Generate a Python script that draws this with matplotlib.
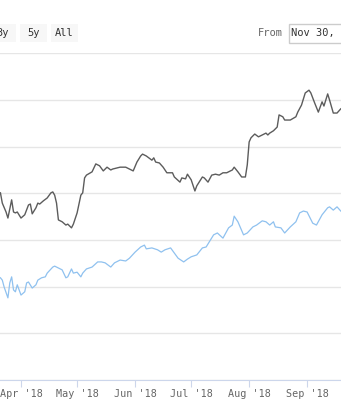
import datetime as dt
import matplotlib
matplotlib.use("Agg")
import matplotlib.pyplot as plt
import matplotlib.dates as mdates
from matplotlib.patches import Rectangle

# black series (readings, arbitrary units, gridline step 10)
black_dates = [
    "2018-03-21", "2018-03-22", "2018-03-24", "2018-03-25", "2018-03-27", "2018-03-28",
    "2018-03-29", "2018-03-30", "2018-04-01", "2018-04-03", "2018-04-05", "2018-04-06",
    "2018-04-07", "2018-04-09", "2018-04-10", "2018-04-11", "2018-04-13", "2018-04-15",
    "2018-04-17", "2018-04-18", "2018-04-19", "2018-04-20", "2018-04-21", "2018-04-23",
    "2018-04-25", "2018-04-26", "2018-04-28", "2018-04-29", "2018-05-01", "2018-05-03",
    "2018-05-04", "2018-05-05", "2018-05-06", "2018-05-09", "2018-05-11", "2018-05-13",
    "2018-05-15", "2018-05-17", "2018-05-19", "2018-05-20", "2018-05-22", "2018-05-24",
    "2018-05-27", "2018-05-28", "2018-05-31", "2018-06-02", "2018-06-04", "2018-06-05",
    "2018-06-07", "2018-06-10", "2018-06-11", "2018-06-12", "2018-06-14", "2018-06-16",
    "2018-06-18", "2018-06-21", "2018-06-22", "2018-06-25", "2018-06-26", "2018-06-28",
    "2018-06-29", "2018-07-01", "2018-07-03", "2018-07-04", "2018-07-07", "2018-07-08",
    "2018-07-10", "2018-07-12", "2018-07-14", "2018-07-16", "2018-07-18", "2018-07-20",
    "2018-07-23", "2018-07-24", "2018-07-26", "2018-07-28", "2018-07-30", "2018-07-31",
    "2018-08-01", "2018-08-02", "2018-08-04", "2018-08-06", "2018-08-08", "2018-08-10",
    "2018-08-11", "2018-08-12", "2018-08-14", "2018-08-16", "2018-08-17", "2018-08-19",
    "2018-08-20", "2018-08-23", "2018-08-26", "2018-08-27", "2018-08-29", "2018-08-31",
    "2018-09-02", "2018-09-03", "2018-09-05", "2018-09-07", "2018-09-09", "2018-09-10",
    "2018-09-12", "2018-09-13", "2018-09-15", "2018-09-17", "2018-09-19",
]
black_values = [
    40.1, 37.9, 36.0, 34.7, 38.6, 36.0,
    35.8, 36.0, 34.7, 35.4, 37.5, 37.7,
    35.6, 36.9, 37.9, 37.7, 38.4, 39.0,
    40.1, 40.3, 39.6, 37.9, 34.3, 33.9,
    33.2, 33.4, 32.6, 33.4, 35.8, 39.6,
    40.1, 43.3, 43.9, 44.6, 46.3, 45.9,
    44.8, 45.6, 45.0, 45.2, 45.4, 45.6,
    45.6, 45.4, 44.8, 46.7, 48.0, 48.4,
    48.0, 47.1, 47.6, 46.7, 46.5, 45.6,
    44.4, 44.4, 43.5, 42.4, 43.3, 43.1,
    44.1, 42.9, 40.5, 41.6, 43.5, 43.3,
    42.4, 43.9, 44.1, 43.9, 44.4, 44.4,
    45.0, 45.6, 44.6, 43.5, 43.5, 46.1,
    51.0, 51.9, 52.7, 52.1, 52.5, 52.9,
    52.5, 52.9, 53.4, 54.2, 56.8, 56.4,
    55.7, 55.7, 56.4, 57.4, 58.9, 61.5,
    62.1, 61.5, 59.4, 57.4, 59.6, 58.7,
    61.3, 60.0, 57.2, 57.2, 58.1,
]

# blue series
blue_dates = [
    "2018-03-21", "2018-03-22", "2018-03-23", "2018-03-25", "2018-03-26", "2018-03-27",
    "2018-03-28", "2018-03-29", "2018-03-30", "2018-04-01", "2018-04-03", "2018-04-04",
    "2018-04-05", "2018-04-07", "2018-04-09", "2018-04-10", "2018-04-12", "2018-04-14",
    "2018-04-15", "2018-04-18", "2018-04-19", "2018-04-21", "2018-04-23", "2018-04-25",
    "2018-04-26", "2018-04-28", "2018-04-29", "2018-05-01", "2018-05-03", "2018-05-04",
    "2018-05-06", "2018-05-09", "2018-05-12", "2018-05-14", "2018-05-16", "2018-05-19",
    "2018-05-21", "2018-05-24", "2018-05-27", "2018-05-29", "2018-06-01", "2018-06-04",
    "2018-06-06", "2018-06-07", "2018-06-10", "2018-06-13", "2018-06-15", "2018-06-17",
    "2018-06-20", "2018-06-22", "2018-06-24", "2018-06-27", "2018-06-29", "2018-07-01",
    "2018-07-04", "2018-07-07", "2018-07-09", "2018-07-13", "2018-07-15", "2018-07-18",
    "2018-07-21", "2018-07-23", "2018-07-24", "2018-07-26", "2018-07-29", "2018-07-31",
    "2018-08-03", "2018-08-05", "2018-08-08", "2018-08-10", "2018-08-12", "2018-08-14",
    "2018-08-15", "2018-08-18", "2018-08-20", "2018-08-23", "2018-08-26", "2018-08-28",
    "2018-08-30", "2018-09-01", "2018-09-04", "2018-09-06", "2018-09-09", "2018-09-12",
    "2018-09-13", "2018-09-15", "2018-09-17", "2018-09-19",
]
blue_values = [
    21.9, 21.4, 19.9, 17.6, 20.8, 22.1,
    19.3, 18.9, 20.4, 18.2, 18.9, 20.8,
    21.0, 19.7, 20.4, 21.4, 21.9, 22.1,
    22.9, 24.2, 24.4, 24.0, 23.6, 21.9,
    22.1, 23.8, 22.9, 23.1, 22.1, 22.9,
    23.8, 24.2, 25.3, 25.3, 25.1, 24.2,
    25.1, 25.7, 25.5, 26.1, 27.4, 28.5,
    28.9, 28.1, 28.3, 27.9, 27.4, 27.9,
    28.3, 27.2, 26.1, 25.3, 25.9, 26.4,
    26.8, 28.3, 28.5, 31.1, 31.5, 30.4,
    32.6, 33.2, 35.1, 33.9, 31.1, 31.5,
    32.8, 33.2, 34.1, 33.9, 33.2, 33.9,
    32.8, 32.6, 31.5, 32.8, 33.9, 35.8,
    36.2, 36.0, 33.6, 33.2, 35.4, 36.9,
    37.1, 36.4, 37.1, 36.2,
]

buttons = ["3y", "5y", "All"]
from_label = "From"
from_value = "Nov 30, 2017"

W, H = 341, 400
MONO = "DejaVu Sans Mono"


def px_rect(x, y, w, h, **kw):
    # rectangle given in pixel coords (top-left origin)
    return Rectangle((x / W, 1 - (y + h) / H), w / W, h / H,
                     transform=fig.transFigure, **kw)


fig = plt.figure(figsize=(W / 100, H / 100), dpi=100)
ax = fig.add_axes([0, 20 / H, 1, (380 - 53.3) / H])

bd = [dt.datetime.strptime(d, "%Y-%m-%d") for d in black_dates]
ld = [dt.datetime.strptime(d, "%Y-%m-%d") for d in blue_dates]
ax.plot(bd, black_values, color="#5c5c5c", lw=1.0, solid_joinstyle="round")
ax.plot(ld, blue_values, color="#8fc1ef", lw=0.9, solid_joinstyle="round")

apr1 = mdates.date2num(dt.datetime(2018, 4, 1))
ax.set_xlim(apr1 - 21 / 1.87, apr1 + 320 / 1.87)
ax.set_ylim(0, 70)
ax.set_yticks(range(0, 71, 10))
ax.yaxis.grid(True, color="#e6e6e6", lw=1)
ax.tick_params(axis="y", left=False, labelleft=False)
ax.set_axisbelow(True)

ax.xaxis.set_major_locator(mdates.MonthLocator())
ax.xaxis.set_major_formatter(mdates.DateFormatter("%b '%y"))
ax.tick_params(axis="x", length=5, color="#ccd6eb", labelcolor="#666666",
               labelsize=7.3, pad=1.5)
for lab in ax.get_xticklabels():
    lab.set_fontfamily(MONO)

for s in ["top", "left", "right"]:
    ax.spines[s].set_visible(False)
ax.spines["bottom"].set_color("#ccd6eb")
ax.patch.set_alpha(0)

# range selector buttons
for i, b in enumerate(buttons):
    x0 = -11 + i * 31
    fig.add_artist(px_rect(x0, 24, 27, 18, facecolor="#f7f7f7", edgecolor="none"))
    fig.text((x0 + 13.5) / W, 1 - 33 / H, b, ha="center", va="center",
             fontsize=7.5, color="#333333", family=MONO)

fig.text(270 / W, 1 - 33 / H, from_label, ha="center", va="center",
         fontsize=7.5, color="#666666", family=MONO)
fig.add_artist(px_rect(288.5, 23.5, 80, 19, facecolor="white", edgecolor="#cccccc", lw=1))
fig.text(291 / W, 1 - 33 / H, from_value, ha="left", va="center",
         fontsize=7.5, color="#333333", family=MONO)

fig.savefig("out.png", dpi=100)
